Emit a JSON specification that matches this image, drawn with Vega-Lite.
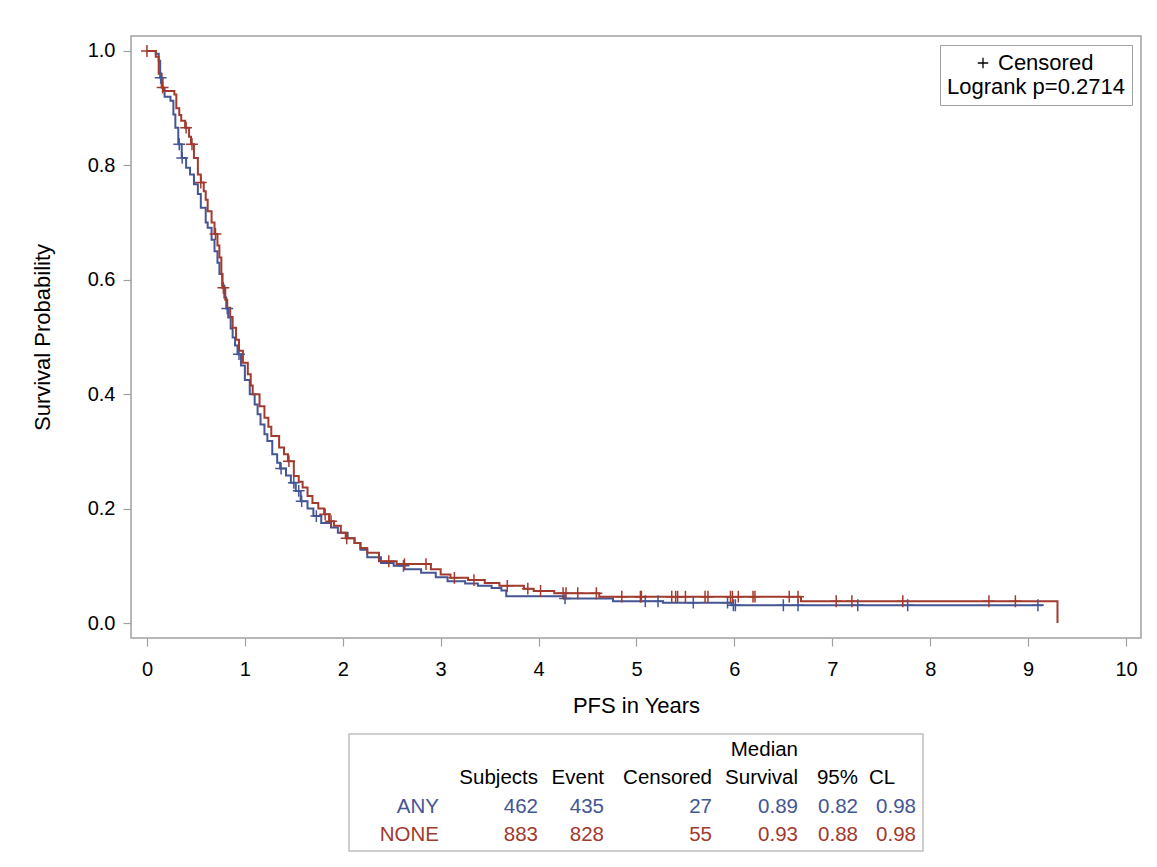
{
  "$schema": "https://vega.github.io/schema/vega-lite/v6.json",
  "padding": {"left": 30, "top": 35, "right": 17, "bottom": 10},
  "background": "white",
  "config": {
    "font": "Liberation Sans",
    "axis": {"tickColor": "#a0a0a0", "labelColor": "#000000", "titleColor": "#000000", "domain": false, "grid": false, "labelFontSize": 20, "titleFontSize": 22, "titleFontWeight": "normal", "tickSize": 8, "tickWidth": 1.2},
    "text": {"font": "Liberation Sans"}
  },
  "resolve": {"scale": {"color": "independent", "shape": "independent"}, "legend": {"color": "independent", "shape": "independent"}},
  "datasets": {
    "km": [
      {"g":"ANY","t":0,"s":1.0},{"g":"ANY","t":0.09,"s":0.995},{"g":"ANY","t":0.12,"s":0.983},{"g":"ANY","t":0.135,"s":0.953},{"g":"ANY","t":0.16,"s":0.935},{"g":"ANY","t":0.18,"s":0.92},{"g":"ANY","t":0.24,"s":0.913},{"g":"ANY","t":0.27,"s":0.889},{"g":"ANY","t":0.29,"s":0.866},{"g":"ANY","t":0.32,"s":0.837},{"g":"ANY","t":0.355,"s":0.813},{"g":"ANY","t":0.40,"s":0.796},{"g":"ANY","t":0.44,"s":0.784},{"g":"ANY","t":0.48,"s":0.767},{"g":"ANY","t":0.52,"s":0.75},{"g":"ANY","t":0.55,"s":0.726},{"g":"ANY","t":0.60,"s":0.70},{"g":"ANY","t":0.62,"s":0.691},{"g":"ANY","t":0.66,"s":0.67},{"g":"ANY","t":0.69,"s":0.65},{"g":"ANY","t":0.72,"s":0.63},{"g":"ANY","t":0.74,"s":0.61},{"g":"ANY","t":0.77,"s":0.59},{"g":"ANY","t":0.79,"s":0.569},{"g":"ANY","t":0.81,"s":0.55},{"g":"ANY","t":0.83,"s":0.534},{"g":"ANY","t":0.855,"s":0.515},{"g":"ANY","t":0.875,"s":0.499},{"g":"ANY","t":0.90,"s":0.485},{"g":"ANY","t":0.925,"s":0.47},{"g":"ANY","t":0.96,"s":0.45},{"g":"ANY","t":1.0,"s":0.425},{"g":"ANY","t":1.05,"s":0.40},{"g":"ANY","t":1.10,"s":0.382},{"g":"ANY","t":1.13,"s":0.365},{"g":"ANY","t":1.16,"s":0.347},{"g":"ANY","t":1.20,"s":0.33},{"g":"ANY","t":1.23,"s":0.318},{"g":"ANY","t":1.28,"s":0.295},{"g":"ANY","t":1.33,"s":0.28},{"g":"ANY","t":1.36,"s":0.27},{"g":"ANY","t":1.42,"s":0.258},{"g":"ANY","t":1.47,"s":0.245},{"g":"ANY","t":1.52,"s":0.231},{"g":"ANY","t":1.57,"s":0.213},{"g":"ANY","t":1.64,"s":0.2},{"g":"ANY","t":1.70,"s":0.187},{"g":"ANY","t":1.78,"s":0.175},{"g":"ANY","t":1.88,"s":0.167},{"g":"ANY","t":1.95,"s":0.158},{"g":"ANY","t":2.05,"s":0.148},{"g":"ANY","t":2.12,"s":0.14},{"g":"ANY","t":2.18,"s":0.128},{"g":"ANY","t":2.25,"s":0.115},{"g":"ANY","t":2.39,"s":0.105},{"g":"ANY","t":2.52,"s":0.10},{"g":"ANY","t":2.63,"s":0.094},{"g":"ANY","t":2.80,"s":0.088},{"g":"ANY","t":2.95,"s":0.08},{"g":"ANY","t":3.07,"s":0.073},{"g":"ANY","t":3.25,"s":0.069},{"g":"ANY","t":3.38,"s":0.065},{"g":"ANY","t":3.52,"s":0.061},{"g":"ANY","t":3.62,"s":0.057},{"g":"ANY","t":3.67,"s":0.047},{"g":"ANY","t":4.26,"s":0.043},{"g":"ANY","t":4.76,"s":0.038},{"g":"ANY","t":5.27,"s":0.0355},{"g":"ANY","t":5.97,"s":0.031},{"g":"ANY","t":9.15,"s":0.031},
      {"g":"NONE","t":0,"s":1.0},{"g":"NONE","t":0.09,"s":0.99},{"g":"NONE","t":0.12,"s":0.96},{"g":"NONE","t":0.15,"s":0.936},{"g":"NONE","t":0.17,"s":0.93},{"g":"NONE","t":0.28,"s":0.924},{"g":"NONE","t":0.30,"s":0.90},{"g":"NONE","t":0.33,"s":0.888},{"g":"NONE","t":0.35,"s":0.878},{"g":"NONE","t":0.39,"s":0.866},{"g":"NONE","t":0.43,"s":0.85},{"g":"NONE","t":0.45,"s":0.837},{"g":"NONE","t":0.48,"s":0.813},{"g":"NONE","t":0.52,"s":0.784},{"g":"NONE","t":0.55,"s":0.77},{"g":"NONE","t":0.58,"s":0.755},{"g":"NONE","t":0.60,"s":0.74},{"g":"NONE","t":0.62,"s":0.72},{"g":"NONE","t":0.66,"s":0.70},{"g":"NONE","t":0.69,"s":0.68},{"g":"NONE","t":0.72,"s":0.66},{"g":"NONE","t":0.74,"s":0.639},{"g":"NONE","t":0.76,"s":0.61},{"g":"NONE","t":0.77,"s":0.586},{"g":"NONE","t":0.80,"s":0.565},{"g":"NONE","t":0.82,"s":0.551},{"g":"NONE","t":0.85,"s":0.535},{"g":"NONE","t":0.875,"s":0.516},{"g":"NONE","t":0.91,"s":0.495},{"g":"NONE","t":0.94,"s":0.476},{"g":"NONE","t":0.98,"s":0.455},{"g":"NONE","t":1.03,"s":0.435},{"g":"NONE","t":1.06,"s":0.415},{"g":"NONE","t":1.08,"s":0.40},{"g":"NONE","t":1.15,"s":0.379},{"g":"NONE","t":1.20,"s":0.359},{"g":"NONE","t":1.24,"s":0.343},{"g":"NONE","t":1.27,"s":0.327},{"g":"NONE","t":1.35,"s":0.307},{"g":"NONE","t":1.40,"s":0.295},{"g":"NONE","t":1.44,"s":0.283},{"g":"NONE","t":1.50,"s":0.257},{"g":"NONE","t":1.55,"s":0.247},{"g":"NONE","t":1.59,"s":0.237},{"g":"NONE","t":1.64,"s":0.222},{"g":"NONE","t":1.69,"s":0.21},{"g":"NONE","t":1.75,"s":0.20},{"g":"NONE","t":1.81,"s":0.19},{"g":"NONE","t":1.86,"s":0.178},{"g":"NONE","t":1.91,"s":0.17},{"g":"NONE","t":1.98,"s":0.158},{"g":"NONE","t":2.03,"s":0.148},{"g":"NONE","t":2.12,"s":0.14},{"g":"NONE","t":2.18,"s":0.131},{"g":"NONE","t":2.25,"s":0.123},{"g":"NONE","t":2.37,"s":0.108},{"g":"NONE","t":2.55,"s":0.103},{"g":"NONE","t":2.90,"s":0.094},{"g":"NONE","t":3.0,"s":0.085},{"g":"NONE","t":3.10,"s":0.079},{"g":"NONE","t":3.28,"s":0.075},{"g":"NONE","t":3.45,"s":0.07},{"g":"NONE","t":3.60,"s":0.065},{"g":"NONE","t":3.85,"s":0.06},{"g":"NONE","t":3.95,"s":0.056},{"g":"NONE","t":4.16,"s":0.052},{"g":"NONE","t":4.62,"s":0.046},{"g":"NONE","t":6.68,"s":0.038},{"g":"NONE","t":9.30,"s":0.0}
    ],
    "cens": [
      {"g":"ANY","t":0.14,"s":0.953,"c":"Censored"},{"g":"ANY","t":0.33,"s":0.837,"c":"Censored"},{"g":"ANY","t":0.36,"s":0.813,"c":"Censored"},{"g":"ANY","t":0.82,"s":0.55,"c":"Censored"},{"g":"ANY","t":0.94,"s":0.47,"c":"Censored"},{"g":"ANY","t":1.37,"s":0.27,"c":"Censored"},{"g":"ANY","t":1.50,"s":0.245,"c":"Censored"},{"g":"ANY","t":1.55,"s":0.231,"c":"Censored"},{"g":"ANY","t":1.58,"s":0.213,"c":"Censored"},{"g":"ANY","t":1.73,"s":0.187,"c":"Censored"},{"g":"ANY","t":2.62,"s":0.10,"c":"Censored"},{"g":"ANY","t":4.27,"s":0.043,"c":"Censored"},{"g":"ANY","t":5.09,"s":0.038,"c":"Censored"},{"g":"ANY","t":5.22,"s":0.038,"c":"Censored"},{"g":"ANY","t":5.58,"s":0.0355,"c":"Censored"},{"g":"ANY","t":5.93,"s":0.0355,"c":"Censored"},{"g":"ANY","t":5.99,"s":0.031,"c":"Censored"},{"g":"ANY","t":6.01,"s":0.031,"c":"Censored"},{"g":"ANY","t":6.50,"s":0.031,"c":"Censored"},{"g":"ANY","t":6.65,"s":0.031,"c":"Censored"},{"g":"ANY","t":7.26,"s":0.031,"c":"Censored"},{"g":"ANY","t":7.77,"s":0.031,"c":"Censored"},{"g":"ANY","t":9.10,"s":0.031,"c":"Censored"},
      {"g":"NONE","t":0.0,"s":1.0,"c":"Censored"},{"g":"NONE","t":0.16,"s":0.936,"c":"Censored"},{"g":"NONE","t":0.40,"s":0.866,"c":"Censored"},{"g":"NONE","t":0.46,"s":0.837,"c":"Censored"},{"g":"NONE","t":0.55,"s":0.77,"c":"Censored"},{"g":"NONE","t":0.70,"s":0.68,"c":"Censored"},{"g":"NONE","t":0.78,"s":0.586,"c":"Censored"},{"g":"NONE","t":1.45,"s":0.283,"c":"Censored"},{"g":"NONE","t":1.82,"s":0.19,"c":"Censored"},{"g":"NONE","t":1.88,"s":0.178,"c":"Censored"},{"g":"NONE","t":2.04,"s":0.148,"c":"Censored"},{"g":"NONE","t":2.47,"s":0.108,"c":"Censored"},{"g":"NONE","t":2.63,"s":0.103,"c":"Censored"},{"g":"NONE","t":2.85,"s":0.103,"c":"Censored"},{"g":"NONE","t":3.14,"s":0.079,"c":"Censored"},{"g":"NONE","t":3.34,"s":0.075,"c":"Censored"},{"g":"NONE","t":3.68,"s":0.065,"c":"Censored"},{"g":"NONE","t":3.89,"s":0.06,"c":"Censored"},{"g":"NONE","t":4.02,"s":0.056,"c":"Censored"},{"g":"NONE","t":4.25,"s":0.052,"c":"Censored"},{"g":"NONE","t":4.28,"s":0.052,"c":"Censored"},{"g":"NONE","t":4.40,"s":0.052,"c":"Censored"},{"g":"NONE","t":4.59,"s":0.052,"c":"Censored"},{"g":"NONE","t":4.85,"s":0.046,"c":"Censored"},{"g":"NONE","t":5.04,"s":0.046,"c":"Censored"},{"g":"NONE","t":5.05,"s":0.046,"c":"Censored"},{"g":"NONE","t":5.36,"s":0.046,"c":"Censored"},{"g":"NONE","t":5.40,"s":0.046,"c":"Censored"},{"g":"NONE","t":5.42,"s":0.046,"c":"Censored"},{"g":"NONE","t":5.50,"s":0.046,"c":"Censored"},{"g":"NONE","t":5.70,"s":0.046,"c":"Censored"},{"g":"NONE","t":5.73,"s":0.046,"c":"Censored"},{"g":"NONE","t":5.96,"s":0.046,"c":"Censored"},{"g":"NONE","t":5.98,"s":0.046,"c":"Censored"},{"g":"NONE","t":6.04,"s":0.046,"c":"Censored"},{"g":"NONE","t":6.19,"s":0.046,"c":"Censored"},{"g":"NONE","t":6.21,"s":0.046,"c":"Censored"},{"g":"NONE","t":6.56,"s":0.046,"c":"Censored"},{"g":"NONE","t":6.65,"s":0.046,"c":"Censored"},{"g":"NONE","t":7.04,"s":0.038,"c":"Censored"},{"g":"NONE","t":7.20,"s":0.038,"c":"Censored"},{"g":"NONE","t":7.72,"s":0.038,"c":"Censored"},{"g":"NONE","t":8.60,"s":0.038,"c":"Censored"},{"g":"NONE","t":8.87,"s":0.038,"c":"Censored"}
    ],
    "tbl": [
      {"row":"h1","col":4,"text":"Median","grp":"H"},
      {"row":"h2","col":1,"text":"Subjects","grp":"H"},
      {"row":"h2","col":2,"text":"Event","grp":"H"},
      {"row":"h2","col":3,"text":"Censored","grp":"H"},
      {"row":"h2","col":4,"text":"Survival","grp":"H"},
      {"row":"h2","col":5,"text":"95%","grp":"H"},
      {"row":"ANY","col":0,"text":"ANY","grp":"ANY"},
      {"row":"ANY","col":1,"text":"462","grp":"ANY"},
      {"row":"ANY","col":2,"text":"435","grp":"ANY"},
      {"row":"ANY","col":3,"text":"27","grp":"ANY"},
      {"row":"ANY","col":4,"text":"0.89","grp":"ANY"},
      {"row":"ANY","col":5,"text":"0.82","grp":"ANY"},
      {"row":"ANY","col":6,"text":"0.98","grp":"ANY"},
      {"row":"NONE","col":0,"text":"NONE","grp":"NONE"},
      {"row":"NONE","col":1,"text":"883","grp":"NONE"},
      {"row":"NONE","col":2,"text":"828","grp":"NONE"},
      {"row":"NONE","col":3,"text":"55","grp":"NONE"},
      {"row":"NONE","col":4,"text":"0.93","grp":"NONE"},
      {"row":"NONE","col":5,"text":"0.88","grp":"NONE"},
      {"row":"NONE","col":6,"text":"0.98","grp":"NONE"}
    ]
  },
  "vconcat": [
    {
      "width": 1010,
      "height": 602,
      "view": {"stroke": "#a0a0a0", "strokeWidth": 1.5},
      "layer": [
        {
          "mark": {"type": "rule", "color": "#a0a0a0", "strokeWidth": 1.5},
          "encoding": {"y": {"datum": 0.5, "type": "quantitative"}}
        },
        {
          "data": {"name": "km"},
          "mark": {"type": "line", "interpolate": "step-after", "strokeWidth": 2},
          "encoding": {
            "x": {"field": "t", "type": "quantitative", "scale": {"domain": [-0.163, 10.153], "nice": false, "zero": false},
                  "axis": {"title": "PFS in Years", "values": [0,1,2,3,4,5,6,7,8,9,10], "format": "d", "labelPadding": 13, "titlePadding": 16}},
            "y": {"field": "s", "type": "quantitative", "scale": {"domain": [-0.0262, 1.0262], "nice": false, "zero": false},
                  "axis": {"title": "Survival Probability", "values": [0,0.2,0.4,0.6,0.8,1.0], "format": ".1f", "labelPadding": 8, "titlePadding": 33}},
            "color": {"field": "g", "type": "nominal", "scale": {"domain": ["ANY","NONE"], "range": ["#445694","#A23A2E"]}, "legend": null}
          }
        },
        {
          "data": {"name": "cens"},
          "mark": {"type": "point", "filled": false, "strokeWidth": 1.5, "size": 140, "opacity": 1},
          "encoding": {
            "x": {"field": "t", "type": "quantitative"},
            "y": {"field": "s", "type": "quantitative"},
            "color": {"field": "g", "type": "nominal", "legend": null},
            "shape": {"field": "c", "type": "nominal", "scale": {"domain": ["Censored"], "range": ["M-1,0H1M0,-1V1"]},
                      "legend": {"title": "Logrank p=0.2714", "titleOrient": "bottom", "orient": "top-right", "offset": 9,
                                 "strokeColor": "#a0a0a0", "padding": 7, "fillColor": "white",
                                 "titleFontSize": 22, "titleFontWeight": "normal", "titleColor": "#000000", "titlePadding": 3,
                                 "labelFontSize": 22, "labelColor": "#000000", "symbolStrokeColor": "#000000", "symbolStrokeWidth": 1.3,
                                 "symbolSize": 110, "symbolOffset": 25}}
          }
        }
      ]
    },
    {
      "width": 574,
      "height": 117,
      "view": {"stroke": "#c0c0c0", "strokeWidth": 1.5},
      "data": {"name": "tbl"},
      "layer": [
        {
          "mark": {"type": "text", "align": "right", "baseline": "middle", "fontSize": 20.5},
          "encoding": {
            "x": {"field": "col", "type": "quantitative", "scale": {"domain": [0,1,2,3,4,5,6], "range": [90,189,255,363,449,509,567]}, "axis": null},
            "y": {"field": "row", "type": "nominal", "scale": {"type": "point", "domain": ["h1","h2","ANY","NONE"], "padding": 0.55}, "axis": null},
            "text": {"field": "text"},
            "color": {"field": "grp", "type": "nominal", "scale": {"domain": ["H","ANY","NONE"], "range": ["#000000","#445694","#A23A2E"]}, "legend": null}
          }
        },
        {
          "data": {"values": [{"row": "h2", "col": 5, "text": "CL"}]},
          "mark": {"type": "text", "align": "left", "baseline": "middle", "fontSize": 20.5, "dx": 11, "color": "#000000"},
          "encoding": {
            "x": {"field": "col", "type": "quantitative"},
            "y": {"field": "row", "type": "nominal"},
            "text": {"field": "text"}
          }
        }
      ]
    }
  ],
  "bounds": "flush",
  "center": true,
  "spacing": 96
}
